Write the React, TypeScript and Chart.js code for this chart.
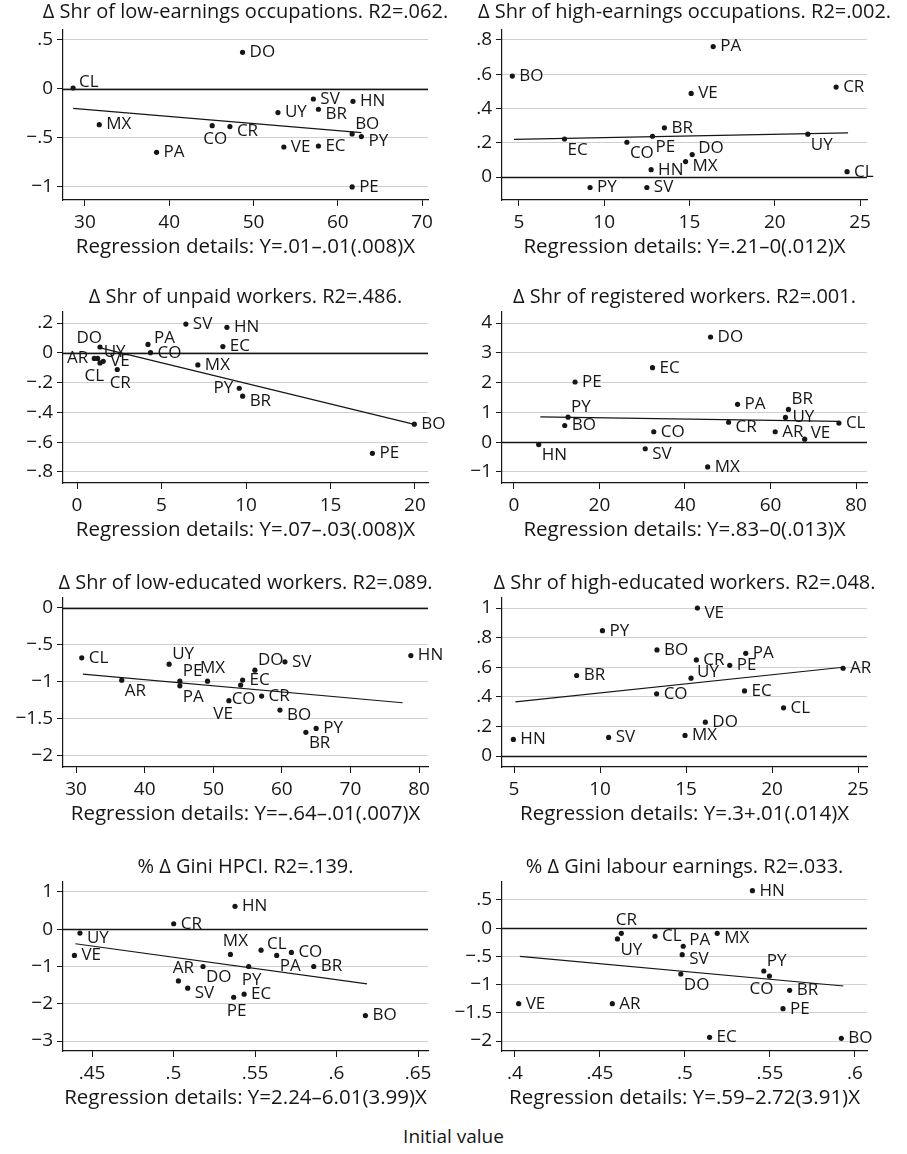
import React, { useEffect, useRef } from "react";
import { Chart, registerables } from "chart.js";

Chart.register(...registerables);

const FONT = '"Open Sans", "DejaVu Sans", sans-serif';
const INK = "#161616";
const GRID = "#cfcfcf";

// ---------- Panel 1 ----------
const p1Title = "Δ Shr of low-earnings occupations. R2=.062.";
const p1Reg = "Regression details: Y=.01–.01(.008)X";
const p1Codes = ["DO", "CL", "SV", "HN", "UY", "BR", "MX", "CO", "CR", "BO", "PY", "VE", "EC", "PA", "PE"];
const p1X = [48.7, 28.6, 57.1, 61.8, 52.9, 57.7, 31.7, 45.1, 47.2, 61.7, 62.8, 53.6, 57.7, 38.5, 61.7];
const p1Y = [0.374, 0.01, -0.102, -0.126, -0.241, -0.207, -0.364, -0.374, -0.384, -0.459, -0.486, -0.592, -0.582, -0.646, -1.0];
const p1Pos = [3, 2, 3, 3, 3, 4, 3, 6, 4, 1, 4, 3, 3, 3, 3];
const p1FitX = [28.6, 62.8];
const p1FitY = [-0.197, -0.446];
const p1XRange = [27.4, 70.7];
const p1YRange = [-1.133, 0.602];
const p1XTicks = [30, 40, 50, 60, 70];
const p1XLabels = ["30", "40", "50", "60", "70"];
const p1YTicks = [0.5, 0, -0.5, -1];
const p1YLabels = [".5", "0", "−.5", "−1"];

// ---------- Panel 2 ----------
const p2Title = "Δ Shr of high-earnings occupations. R2=.002.";
const p2Reg = "Regression details: Y=.21–0(.012)X";
const p2Codes = ["PA", "BO", "CR", "VE", "BR", "EC", "PE", "UY", "CO", "DO", "MX", "HN", "CL", "PY", "SV"];
const p2X = [16.39, 4.61, 23.6, 15.1, 13.53, 7.67, 12.83, 21.94, 11.33, 15.16, 14.77, 12.75, 24.24, 9.17, 12.5];
const p2Y = [0.761, 0.589, 0.525, 0.488, 0.287, 0.222, 0.238, 0.25, 0.203, 0.131, 0.09, 0.043, 0.031, -0.061, -0.061];
const p2Pos = [3, 3, 3, 3, 3, 5, 5, 5, 5, 2, 4, 3, 3, 3, 3];
const p2FitX = [4.71, 24.3];
const p2FitY = [0.22, 0.258];
const p2XRange = [4.006, 25.41];
const p2YRange = [-0.134, 0.858];
const p2XTicks = [5, 10, 15, 20, 25];
const p2XLabels = ["5", "10", "15", "20", "25"];
const p2YTicks = [0.8, 0.6, 0.4, 0.2, 0];
const p2YLabels = [".8", ".6", ".4", ".2", "0"];

// ---------- Panel 3 ----------
const p3Title = "Δ Shr of unpaid workers. R2=.486.";
const p3Reg = "Regression details: Y=.07–.03(.008)X";
const p3Codes = ["SV", "HN", "DO", "UY", "PA", "EC", "CO", "AR", "VE", "CL", "CR", "MX", "PY", "BR", "BO", "PE"];
const p3X = [6.44, 8.87, 1.36, 1.22, 4.2, 8.63, 4.35, 1.02, 1.55, 1.36, 2.38, 7.15, 9.6, 9.8, 19.96, 17.48];
const p3Y = [0.193, 0.171, 0.039, -0.038, 0.056, 0.042, 0.001, -0.038, -0.057, -0.068, -0.112, -0.081, -0.238, -0.291, -0.479, -0.675];
const p3Pos = [3, 3, 11, 2, 2, 3, 3, 9, 3, 7, 6, 3, 9, 4, 3, 3];
const p3FitX = [1.38, 19.9];
const p3FitY = [0.033, -0.479];
const p3XRange = [-0.83, 20.77];
const p3YRange = [-0.874, 0.274];
const p3XTicks = [0, 5, 10, 15, 20];
const p3XLabels = ["0", "5", "10", "15", "20"];
const p3YTicks = [0.2, 0, -0.2, -0.4, -0.6, -0.8];
const p3YLabels = [".2", "0", "−.2", "−.4", "−.6", "−.8"];

// ---------- Panel 4 ----------
const p4Title = "Δ Shr of registered workers. R2=.001.";
const p4Reg = "Regression details: Y=.83–0(.013)X";
const p4Codes = ["DO", "EC", "PE", "PA", "BR", "PY", "UY", "BO", "CR", "CL", "CO", "AR", "VE", "HN", "SV", "MX"];
const p4X = [45.98, 32.4, 14.29, 52.3, 64.2, 12.65, 63.5, 11.87, 50.2, 76.0, 32.7, 61.1, 68.0, 5.78, 30.7, 45.3];
const p4Y = [3.53, 2.5, 2.02, 1.27, 1.1, 0.84, 0.83, 0.56, 0.67, 0.64, 0.35, 0.35, 0.1, -0.08, -0.22, -0.83];
const p4Pos = [3, 3, 3, 3, 1, 1, 3, 3, 4, 3, 3, 3, 2, 5, 4, 3];
const p4FitX = [6.17, 76.0];
const p4FitY = [0.85, 0.7];
const p4XRange = [-2.8, 82.57];
const p4YRange = [-1.37, 4.37];
const p4XTicks = [0, 20, 40, 60, 80];
const p4XLabels = ["0", "20", "40", "60", "80"];
const p4YTicks = [4, 3, 2, 1, 0, -1];
const p4YLabels = ["4", "3", "2", "1", "0", "−1"];

// ---------- Panel 5 ----------
const p5Title = "Δ Shr of low-educated workers. R2=.089.";
const p5Reg = "Regression details: Y=–.64–.01(.007)X";
const p5Codes = ["CL", "UY", "HN", "DO", "SV", "AR", "PE", "PA", "MX", "EC", "CO", "VE", "CR", "BO", "PY", "BR"];
const p5X = [30.83, 43.57, 78.8, 56.07, 60.45, 36.66, 45.13, 45.13, 49.16, 54.28, 53.99, 52.28, 57.05, 59.72, 65.0, 63.5];
const p5Y = [-0.674, -0.759, -0.643, -0.84, -0.728, -0.975, -0.989, -1.052, -0.989, -0.974, -1.042, -1.253, -1.19, -1.38, -1.627, -1.681];
const p5Pos = [3, 1, 3, 1, 3, 5, 1, 5, 12, 3, 6, 7, 3, 4, 3, 5];
const p5FitX = [31.0, 77.6];
const p5FitY = [-0.894, -1.281];
const p5XRange = [28.1, 81.3];
const p5YRange = [-2.149, 0.135];
const p5XTicks = [30, 40, 50, 60, 70, 80];
const p5XLabels = ["30", "40", "50", "60", "70", "80"];
const p5YTicks = [0, -0.5, -1, -1.5, -2];
const p5YLabels = ["0", "−.5", "−1", "−1.5", "−2"];

// ---------- Panel 6 ----------
const p6Title = "Δ Shr of high-educated workers. R2=.048.";
const p6Reg = "Regression details: Y=.3+.01(.014)X";
const p6Codes = ["VE", "PY", "BO", "CR", "PA", "PE", "AR", "BR", "UY", "CO", "EC", "CL", "DO", "MX", "SV", "HN"];
const p6X = [15.66, 10.14, 13.31, 15.6, 18.47, 17.54, 24.13, 8.64, 15.29, 13.29, 18.4, 20.67, 16.12, 14.94, 10.5, 4.96];
const p6Y = [1.0, 0.847, 0.717, 0.649, 0.694, 0.613, 0.593, 0.544, 0.526, 0.42, 0.44, 0.326, 0.229, 0.139, 0.126, 0.112];
const p6Pos = [4, 3, 3, 3, 3, 3, 3, 3, 2, 3, 3, 3, 3, 3, 3, 3];
const p6FitX = [5.08, 24.13];
const p6FitY = [0.366, 0.6];
const p6XRange = [4.3, 25.52];
const p6YRange = [-0.074, 1.0676];
const p6XTicks = [5, 10, 15, 20, 25];
const p6XLabels = ["5", "10", "15", "20", "25"];
const p6YTicks = [1, 0.8, 0.6, 0.4, 0.2, 0];
const p6YLabels = ["1", ".8", ".6", ".4", ".2", "0"];

// ---------- Panel 7 ----------
const p7Title = "% Δ Gini HPCI. R2=.139.";
const p7Reg = "Regression details: Y=2.24–6.01(3.99)X";
const p7Codes = ["HN", "CR", "UY", "VE", "MX", "CL", "PA", "CO", "BR", "DO", "PY", "AR", "SV", "EC", "PE", "BO"];
const p7X = [0.5377, 0.5001, 0.4426, 0.4392, 0.5349, 0.5537, 0.5633, 0.5723, 0.586, 0.5181, 0.5461, 0.503, 0.5087, 0.5433, 0.5369, 0.6177];
const p7Y = [0.614, 0.148, -0.103, -0.704, -0.677, -0.561, -0.704, -0.623, -1.0, -1.0, -1.0, -1.386, -1.583, -1.744, -1.825, -2.318];
const p7Pos = [3, 3, 4, 3, 12, 2, 5, 3, 3, 5, 6, 12, 4, 3, 6, 3];
const p7FitX = [0.4398, 0.6187];
const p7FitY = [-0.39, -1.466];
const p7XRange = [0.4322, 0.6561];
const p7YRange = [-3.268, 1.268];
const p7XTicks = [0.45, 0.5, 0.55, 0.6, 0.65];
const p7XLabels = [".45", ".5", ".55", ".6", ".65"];
const p7YTicks = [1, 0, -1, -2, -3];
const p7YLabels = ["1", "0", "−1", "−2", "−3"];

// ---------- Panel 8 ----------
const p8Title = "% Δ Gini labour earnings. R2=.033.";
const p8Reg = "Regression details: Y=.59–2.72(3.91)X";
const p8Codes = ["HN", "CR", "UY", "CL", "PA", "MX", "SV", "DO", "PY", "CO", "BR", "PE", "VE", "AR", "EC", "BO"];
const p8X = [0.5397, 0.4626, 0.4603, 0.4824, 0.499, 0.519, 0.4984, 0.4976, 0.5464, 0.5497, 0.5616, 0.5577, 0.4022, 0.4573, 0.5145, 0.592];
const p8Y = [0.665, -0.091, -0.191, -0.143, -0.32, -0.091, -0.469, -0.812, -0.759, -0.848, -1.102, -1.427, -1.338, -1.338, -1.935, -1.953];
const p8Pos = [3, 12, 5, 3, 2, 4, 4, 5, 1, 7, 3, 3, 3, 3, 3, 3];
const p8FitX = [0.4029, 0.5932];
const p8FitY = [-0.499, -1.025];
const p8XRange = [0.3924, 0.6071];
const p8YRange = [-2.177, 0.819];
const p8XTicks = [0.4, 0.45, 0.5, 0.55, 0.6];
const p8XLabels = [".4", ".45", ".5", ".55", ".6"];
const p8YTicks = [0.5, 0, -0.5, -1, -1.5, -2];
const p8YLabels = [".5", "0", "−.5", "−1", "−1.5", "−2"];

const X_AXIS_TITLE = "Initial value";

type PanelDef = {
  title: string; reg: string; codes: string[]; xs: number[]; ys: number[]; pos: number[];
  fitX: number[]; fitY: number[]; xRange: number[]; yRange: number[];
  xTicks: number[]; xLabels: string[]; yTicks: number[]; yLabels: string[];
};

const mk = (title: string, reg: string, codes: string[], xs: number[], ys: number[], pos: number[],
  fitX: number[], fitY: number[], xRange: number[], yRange: number[],
  xTicks: number[], xLabels: string[], yTicks: number[], yLabels: string[]): PanelDef =>
  ({ title, reg, codes, xs, ys, pos, fitX, fitY, xRange, yRange, xTicks, xLabels, yTicks, yLabels });

const PANELS: PanelDef[] = [
  mk(p1Title, p1Reg, p1Codes, p1X, p1Y, p1Pos, p1FitX, p1FitY, p1XRange, p1YRange, p1XTicks, p1XLabels, p1YTicks, p1YLabels),
  mk(p2Title, p2Reg, p2Codes, p2X, p2Y, p2Pos, p2FitX, p2FitY, p2XRange, p2YRange, p2XTicks, p2XLabels, p2YTicks, p2YLabels),
  mk(p3Title, p3Reg, p3Codes, p3X, p3Y, p3Pos, p3FitX, p3FitY, p3XRange, p3YRange, p3XTicks, p3XLabels, p3YTicks, p3YLabels),
  mk(p4Title, p4Reg, p4Codes, p4X, p4Y, p4Pos, p4FitX, p4FitY, p4XRange, p4YRange, p4XTicks, p4XLabels, p4YTicks, p4YLabels),
  mk(p5Title, p5Reg, p5Codes, p5X, p5Y, p5Pos, p5FitX, p5FitY, p5XRange, p5YRange, p5XTicks, p5XLabels, p5YTicks, p5YLabels),
  mk(p6Title, p6Reg, p6Codes, p6X, p6Y, p6Pos, p6FitX, p6FitY, p6XRange, p6YRange, p6XTicks, p6XLabels, p6YTicks, p6YLabels),
  mk(p7Title, p7Reg, p7Codes, p7X, p7Y, p7Pos, p7FitX, p7FitY, p7XRange, p7YRange, p7XTicks, p7XLabels, p7YTicks, p7YLabels),
  mk(p8Title, p8Reg, p8Codes, p8X, p8Y, p8Pos, p8FitX, p8FitY, p8XRange, p8YRange, p8XTicks, p8XLabels, p8YTicks, p8YLabels),
];

// layout (page pixels)
const ROW_TOP = [30, 312, 598, 882];
const ROW_BOTTOM = [200, 483, 767, 1051];
const TITLE_GAP = [18, 15, 15, 15];
const COL_LEFT = [0, 430];
const COL_WIDTH = [460, 477];
const COL_YAXIS = [63, 72];
const COL_PADR = [32, 40];
const TOP_PAD = 30;
const X_AXIS_H = 72;
const REG_GAP = 47;

const TITLE_SIZE = 20;
const REG_SIZE = 20.5;
const TICK_SIZE = 19;
const LABEL_SIZE = 17;

// clock-position label offsets: [dx, dy, align]
const CLOCK: Record<number, [number, number, CanvasTextAlign]> = {
  12: [5, -13, "center"],
  1: [3, -10, "left"],
  2: [6, -6, "left"],
  3: [7, 0, "left"],
  4: [7, 5, "left"],
  5: [3, 11, "left"],
  6: [3, 14, "center"],
  7: [4, 13, "right"],
  9: [-6, 0, "right"],
  11: [2, -9, "right"],
};

function labelFor(vals: number[], labels: string[], v: number) {
  const i = vals.findIndex((t) => Math.abs(t - v) < 1e-9);
  return i >= 0 ? labels[i] : "";
}

function Panel({ def, row, col }: { def: PanelDef; row: number; col: number }) {
  const ref = useRef<HTMLCanvasElement>(null);
  const plotH = ROW_BOTTOM[row] - ROW_TOP[row];
  const w = COL_WIDTH[col];
  const h = TOP_PAD + plotH + X_AXIS_H;

  useEffect(() => {
    const canvas = ref.current!;
    const decor = {
      id: "decor",
      beforeDatasetsDraw(chart: any) {
        const { ctx, chartArea, scales } = chart;
        const y0 = Math.round(scales.y.getPixelForValue(0)) + 0.5;
        ctx.save();
        ctx.strokeStyle = INK;
        ctx.lineWidth = 1.4;
        ctx.beginPath();
        ctx.moveTo(chartArea.left, y0);
        ctx.lineTo(chartArea.right, y0);
        ctx.stroke();
        ctx.restore();
      },
      afterDatasetsDraw(chart: any) {
        const { ctx, scales } = chart;
        ctx.save();
        ctx.font = `${LABEL_SIZE}px ${FONT}`;
        ctx.fillStyle = INK;
        ctx.textBaseline = "middle";
        def.codes.forEach((c, i) => {
          const px = scales.x.getPixelForValue(def.xs[i]);
          const py = scales.y.getPixelForValue(def.ys[i]);
          const [dx, dy, al] = CLOCK[def.pos[i]] || CLOCK[3];
          ctx.textAlign = al;
          ctx.fillText(c, px + dx, py + dy);
        });
        ctx.restore();
      },
      afterDraw(chart: any) {
        const { ctx, chartArea } = chart;
        const cx = (chartArea.left + chartArea.right) / 2;
        ctx.save();
        ctx.fillStyle = INK;
        ctx.textAlign = "center";
        ctx.textBaseline = "middle";
        ctx.font = `${TITLE_SIZE}px ${FONT}`;
        ctx.fillText(def.title, cx, chartArea.top - TITLE_GAP[row]);
        ctx.font = `${REG_SIZE}px ${FONT}`;
        ctx.fillText(def.reg, cx, chartArea.bottom + REG_GAP);
        ctx.restore();
      },
    };

    const chart = new Chart(canvas, {
      type: "scatter",
      data: {
        datasets: [
          {
            data: def.xs.map((x, i) => ({ x, y: def.ys[i] })),
            pointRadius: 2.6,
            pointHoverRadius: 2.6,
            backgroundColor: INK,
            borderWidth: 0,
            order: 1,
          },
          {
            data: def.fitX.map((x, i) => ({ x, y: def.fitY[i] })),
            showLine: true,
            pointRadius: 0,
            borderColor: INK,
            borderWidth: 1.2,
            order: 2,
          },
        ],
      },
      options: {
        animation: false,
        responsive: false,
        devicePixelRatio: 1,
        events: [],
        layout: { padding: { left: 0, right: COL_PADR[col], top: TOP_PAD, bottom: 0 }, autoPadding: false },
        plugins: { legend: { display: false }, tooltip: { enabled: false }, title: { display: false } },
        scales: {
          x: {
            type: "linear",
            min: def.xRange[0],
            max: def.xRange[1],
            afterBuildTicks: (s: any) => { s.ticks = def.xTicks.map((v) => ({ value: v })); },
            afterFit: (s: any) => { s.height = X_AXIS_H; s.paddingLeft = 0; s.paddingRight = 0; },
            ticks: {
              autoSkip: false, maxRotation: 0, minRotation: 0, padding: 5,
              color: INK, font: { family: FONT, size: TICK_SIZE },
              callback: (v: any) => labelFor(def.xTicks, def.xLabels, Number(v)),
            },
            grid: { drawOnChartArea: false, tickLength: 6, tickColor: INK, tickWidth: 1 },
            border: { display: true, color: INK, width: 1.2 },
          },
          y: {
            type: "linear",
            min: def.yRange[0],
            max: def.yRange[1],
            afterBuildTicks: (s: any) => { s.ticks = def.yTicks.map((v) => ({ value: v })); },
            afterFit: (s: any) => { s.width = COL_YAXIS[col]; s.paddingTop = 0; s.paddingBottom = 0; },
            ticks: {
              autoSkip: false, padding: 4,
              color: INK, font: { family: FONT, size: TICK_SIZE },
              callback: (v: any) => labelFor(def.yTicks, def.yLabels, Number(v)),
            },
            grid: { color: GRID, lineWidth: 1, tickLength: 6, tickColor: INK, tickWidth: 1 },
            border: { display: true, color: INK, width: 1.2 },
          },
        },
      },
      plugins: [decor],
    } as any);
    return () => chart.destroy();
  }, []);

  return (
    <canvas
      ref={ref}
      width={w}
      height={h}
      style={{ position: "absolute", left: COL_LEFT[col], top: ROW_TOP[row] - TOP_PAD, width: w, height: h }}
    />
  );
}

export default function App() {
  return (
    <div style={{ position: "absolute", left: 0, top: 0, width: 907, height: 1154, background: "#fff", overflow: "hidden" }}>
      {PANELS.map((p, i) => (
        <Panel key={i} def={p} row={Math.floor(i / 2)} col={i % 2} />
      ))}
      <div
        style={{
          position: "absolute", left: 0, width: 907, top: 1123, height: 26, lineHeight: "26px",
          textAlign: "center", fontFamily: FONT, fontSize: 19, color: INK,
        }}
      >
        {X_AXIS_TITLE}
      </div>
    </div>
  );
}
